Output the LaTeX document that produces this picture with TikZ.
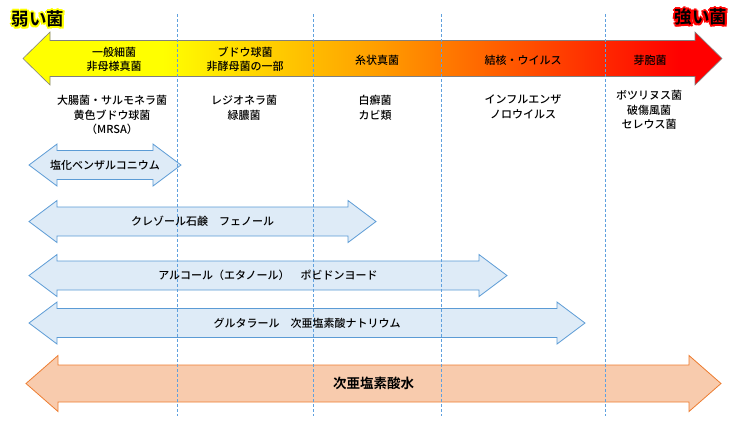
\documentclass[tikz,border=0pt]{standalone}
\usepackage{fontspec}
\setmainfont{Noto Sans CJK JP}[UprightFont=* Medium, BoldFont=* Bold]
\definecolor{arrblue}{HTML}{5B9BD5}
\definecolor{arrbluefill}{HTML}{DEEBF7}
\definecolor{arrorange}{HTML}{ED7D31}
\definecolor{arrorangefill}{HTML}{F8CBAD}
\definecolor{gridblue}{HTML}{5FA0DE}
\definecolor{heatyellow}{HTML}{FFFF00}
\definecolor{heatorange}{HTML}{FFA000}
\definecolor{heatred}{HTML}{FF0000}
\pgfdeclarehorizontalshading{heat}{100bp}{color(0bp)=(heatyellow); color(35bp)=(heatyellow);
  color(50bp)=(heatorange); color(72bp)=(heatred); color(100bp)=(heatred)}
% double arrow: [style]{left tip}{right tip}{y}{shaft half}{head half}{head length}
\newcommand{\dblarrow}[7][]{%
  \draw[#1] (#2,#4) -- ({#2+#7},{#4-#6}) -- ({#2+#7},{#4-#5}) -- ({#3-#7},{#4-#5})
    -- ({#3-#7},{#4-#6}) -- (#3,#4) -- ({#3-#7},{#4+#6}) -- ({#3-#7},{#4+#5})
    -- ({#2+#7},{#4+#5}) -- ({#2+#7},{#4+#6}) -- cycle;}
% text with a coloured halo
\newcommand{\haloat}[4]{\rlap{\hspace*{#2}\raisebox{#3}{\textcolor{#1}{#4}}}}
\newcommand{\halotext}[2]{%
  \haloat{#1}{1.9pt}{0pt}{#2}\haloat{#1}{-1.9pt}{0pt}{#2}%
  \haloat{#1}{0pt}{1.9pt}{#2}\haloat{#1}{0pt}{-1.9pt}{#2}%
  \haloat{#1}{1.4pt}{1.4pt}{#2}\haloat{#1}{-1.4pt}{1.4pt}{#2}%
  \haloat{#1}{1.4pt}{-1.4pt}{#2}\haloat{#1}{-1.4pt}{-1.4pt}{#2}#2}
\begin{document}
\begin{tikzpicture}[x=1pt, y=-1pt,
  every node/.style={inner sep=0pt},
  lbl/.style={font=\fontsize{11}{14.5}\selectfont, align=center},
  big/.style={font=\fontsize{13.5}{16}\selectfont\bfseries},
  title/.style={font=\fontsize{17.5}{20}\selectfont\bfseries},
  bluearr/.style={draw=arrblue, fill=arrbluefill, line width=0.8pt},
  orangearr/.style={draw=arrorange, fill=arrorangefill, line width=0.8pt},
  grid/.style={gridblue, dash pattern=on 3pt off 2pt, line width=0.7pt}]
  \useasboundingbox (0,0) rectangle (737,426);

  % scale of strength
  \dblarrow[shade, shading=heat, draw=gray, line width=0.6pt]{23}{722}{58.5}{18}{26.5}{27}

  % disinfectants
  \dblarrow[bluearr]{29}{181}{165}{14.5}{21}{28}
  \dblarrow[bluearr]{29}{376}{221.5}{14.5}{21}{28}
  \dblarrow[bluearr]{29}{507}{275.5}{14.5}{21}{28}
  \dblarrow[bluearr]{29}{585}{323}{14.5}{21}{28}
  \dblarrow[orangearr]{26}{721}{383.5}{18.5}{28}{32}

  % borders between groups
  \foreach \gx in {177,313,441,605}
    \draw[grid] (\gx,14) -- (\gx,416);

  % titles
  \node[title] (weak) at (38,19) {\halotext{heatyellow}{弱い菌}};
  \node[title] (strong) at (701,17) {\halotext{heatred}{強い菌}};

  % groups on the arrow
  \node[lbl] (grpa) at (114,59.5) {一般細菌\\非母様真菌};
  \node[lbl] (grpb) at (245,59.5) {ブドウ球菌\\非酵母菌の一部};
  \node[lbl] (grpc) at (377,60) {糸状真菌};
  \node[lbl] (grpd) at (523,60) {結核・ウイルス};
  \node[lbl] (grpe) at (650,60) {芽胞菌};

  % examples
  \node[lbl] (exa) at (112,115) {大腸菌・サルモネラ菌\\黄色ブドウ球菌\\（MRSA）};
  \node[lbl] (exb) at (244,108) {レジオネラ菌\\緑膿菌};
  \node[lbl] (exc) at (375,108) {白癬菌\\カビ類};
  \node[lbl] (exd) at (523,107) {インフルエンザ\\ノロウイルス};
  \node[lbl] (exe) at (649,110) {ボツリヌス菌\\破傷風菌\\セレウス菌};

  % disinfectant names
  \node[lbl] (benz) at (105,165) {塩化ベンザルコニウム};
  \node[lbl] (cres) at (202.5,221.5) {クレゾール石鹸　フェノール};
  \node[lbl] (alco) at (268,275.5) {アルコール（エタノール）　ポビドンヨード};
  \node[lbl] (glut) at (307,323) {グルタラール　次亜塩素酸ナトリウム};
  \node[big] (hocl) at (373.5,383.5) {次亜塩素酸水};
\end{tikzpicture}
\end{document}
